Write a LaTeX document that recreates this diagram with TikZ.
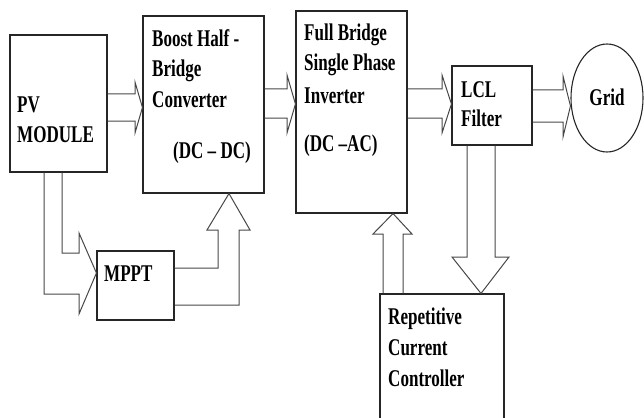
\documentclass[tikz,border=0pt]{standalone}
\usepackage{fontspec}
\setmainfont[FakeStretch=0.71]{Liberation Serif}
\usetikzlibrary{calc,shapes.geometric}
\tikzset{
  blk/.style={draw=black!85, line width=1.1pt, fill=none, inner sep=0pt},
  barrow/.style={draw=black!72, line width=1pt, line join=miter},
  lbl/.style={inner sep=0pt, anchor=base west, font=\bfseries\fontsize{24}{30}\selectfont, text=black}
}
\begin{document}
\begin{tikzpicture}[x=1pt,y=-1pt]
\useasboundingbox (0,0) rectangle (644,417);
\begin{scope}
\clip (0,0) rectangle (644,417);

% blocks
\node[blk, minimum width=97pt, minimum height=137pt] (pv) at (58.5,103.5) {};
\node[blk, minimum width=121pt, minimum height=177pt] (boost) at (203.5,104.5) {};
\node[blk, minimum width=111pt, minimum height=202pt] (inv) at (351.5,112) {};
\node[blk, minimum width=80pt, minimum height=79pt] (lcl) at (492,105.5) {};
\node[blk, ellipse, minimum width=72pt, minimum height=108pt] (grid) at (607,98) {};
\node[blk, minimum width=77pt, minimum height=69pt] (mppt) at (135.5,285.5) {};
\node[blk, minimum width=124pt, minimum height=140pt] (rcc) at (442,364) {};

% labels
\node[lbl] (t1) at (17,112) {PV};
\node[lbl] (t2) at (17,142) {MODULE};
\node[lbl] (t3) at (152,47) {Boost Half -};
\node[lbl] (t4) at (152,77) {Bridge};
\node[lbl] (t5) at (152,107) {Converter};
\node[lbl] (t6) at (173,158) {(DC -- DC)};
\node[lbl] (t7) at (304,41) {Full Bridge};
\node[lbl] (t8) at (304,71) {Single Phase};
\node[lbl] (t9) at (304,103) {Inverter};
\node[lbl] (t10) at (304,151) {(DC --AC)};
\node[lbl] (t11) at (461,98) {LCL};
\node[lbl] (t12) at (461,126) {Filter};
\node[lbl, anchor=base] (t13) at (607,106) {Grid};
\node[lbl] (t14) at (104,281) {MPPT};
\node[lbl] (t15) at (388,324) {Repetitive};
\node[lbl] (t16) at (388,355) {Current};
\node[lbl] (t17) at (388,386) {Controller};

% PV module -> boost converter
\draw[barrow] (pv.east |- 0,94) -- (135,94) -- (135,82) -- (boost.west |- 0,107.5)
  -- (135,133) -- (135,121) -- (pv.east |- 0,121);
% boost converter -> inverter
\draw[barrow] (boost.east |- 0,89) -- (287,89) -- (287,75) -- (inv.west |- 0,104)
  -- (287,133) -- (287,118) -- (boost.east |- 0,118);
% inverter -> LCL filter
\draw[barrow] (inv.east |- 0,89) -- (442,89) -- (442,75) -- (lcl.west |- 0,104)
  -- (442,133) -- (442,118) -- (inv.east |- 0,118);
% LCL filter -> grid
\draw[barrow] (lcl.east |- 0,90) -- (563,90) -- (563,76) -- (grid.west |- 0,106)
  -- (563,137) -- (563,122) -- (lcl.east |- 0,122);
% LCL filter -> repetitive controller
\draw[barrow] (lcl.south -| 467,0) -- (467,257) -- (452,257) -- (rcc.north -| 481,0)
  -- (509,257) -- (495,257) -- (lcl.south -| 495,0);
% repetitive controller -> inverter
\draw[barrow] (rcc.north -| 383,0) -- (383,234) -- (373,234) -- (inv.south -| 393,0)
  -- (412,234) -- (403,234) -- (rcc.north -| 403,0);
% PV module -> MPPT
\draw[barrow] (pv.south -| 44,0) -- (44,294) -- (79,294) -- (79,314) -- (mppt.west |- 0,273)
  -- (79,233) -- (79,253) -- (62,253) -- (pv.south -| 62,0);
% MPPT -> boost converter
\draw[barrow] (mppt.east |- 0,268) -- (218,268) -- (218,230) -- (207,230) -- (boost.south -| 229,0)
  -- (250,230) -- (239,230) -- (239,305) -- (mppt.east |- 0,305);
\end{scope}
\end{tikzpicture}
\end{document}
